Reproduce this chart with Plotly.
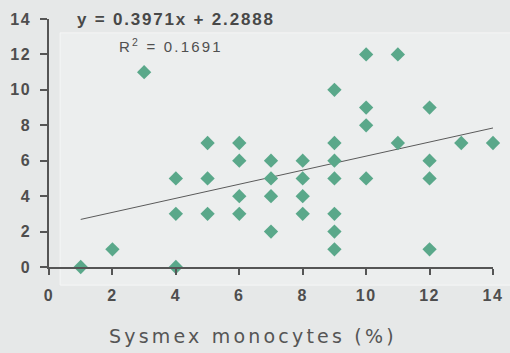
import plotly.graph_objects as go

# Sysmex monocyte % vs. comparison count
monocytes = [1, 2, 3,
             4, 4, 4,
             5, 5, 5,
             6, 6, 6, 6,
             7, 7, 7, 7,
             8, 8, 8, 8,
             9, 9, 9, 9, 9, 9, 9,
             10, 10, 10, 10,
             11, 11,
             12, 12, 12, 12,
             13, 14]
counts = [0, 1, 11,
          5, 3, 0,
          7, 5, 3,
          7, 6, 4, 3,
          6, 5, 4, 2,
          6, 5, 4, 3,
          10, 7, 6, 5, 3, 2, 1,
          12, 9, 8, 5,
          12, 7,
          9, 6, 5, 1,
          7, 7]

slope = 0.3971
intercept = 2.2888
r_squared = 0.1691
trend_x = [min(monocytes), max(monocytes)]
trend_y = [slope * v + intercept for v in trend_x]

tick_vals = [0, 2, 4, 6, 8, 10, 12, 14]
tick_labels = [str(v) for v in tick_vals]
x_title = "Sysmex monocytes (%)"


def spaced(text, px, bold=False):
    inner = f"<b>{text}</b>" if bold else text
    return f'<span style="letter-spacing:{px}px">{inner}</span>'


axis_color = "#555555"
label_font = dict(family="Liberation Sans, Arial, sans-serif", size=16, color="#4e4e4e")
tick_text = [spaced(t, 1.5, bold=True) for t in tick_labels]

fig = go.Figure()
fig.add_trace(go.Scatter(
    x=trend_x, y=trend_y, mode="lines",
    line=dict(color="#5a5a5a", width=1), hoverinfo="skip",
))
fig.add_trace(go.Scatter(
    x=monocytes, y=counts, mode="markers",
    marker=dict(symbol="diamond", size=11, color="#5aa88a"),
    cliponaxis=False,
))

fig.update_layout(
    width=510, height=353,
    margin=dict(l=49, r=17, t=19, b=86),
    paper_bgcolor="#e6e8e8",
    plot_bgcolor="rgba(0,0,0,0)",
    showlegend=False,
    xaxis=dict(
        range=[0, 14], tickvals=tick_vals, ticktext=tick_text,
        showgrid=False, zeroline=False, automargin=False,
        showline=True, linecolor=axis_color, linewidth=1.5,
        ticks="outside", ticklen=6, tickcolor=axis_color, tickwidth=1.5,
        tickfont=label_font, ticklabelstandoff=7,
    ),
    yaxis=dict(
        range=[0, 14], tickvals=tick_vals, ticktext=tick_text,
        showgrid=False, zeroline=False, automargin=False,
        showline=True, linecolor=axis_color, linewidth=1.5,
        ticks="outside", ticklen=7, tickcolor=axis_color, tickwidth=1.5,
        tickfont=label_font, ticklabelstandoff=6,
    ),
    shapes=[dict(
        type="rect", xref="paper", yref="paper", layer="below",
        x0=0.025, x1=1.04, y0=-0.073, y1=0.944,
        fillcolor="#eceeee", line=dict(color="#f5f6f6", width=1),
    )],
    annotations=[
        dict(
            text=spaced(f"y = {slope}x + {intercept}", 1.8, bold=True),
            xref="paper", yref="paper", x=0.285, y=1.0,
            xanchor="center", yanchor="middle", showarrow=False,
            font=dict(family="Liberation Sans, Arial, sans-serif", size=17, color="#484848"),
        ),
        dict(
            text=spaced(f"R<sup>2</sup> = {r_squared}", 2.2),
            xref="paper", yref="paper", x=0.275, y=0.895,
            xanchor="center", yanchor="middle", showarrow=False,
            font=dict(family="Liberation Sans, Arial, sans-serif", size=15, color="#505050"),
        ),
        dict(
            text=spaced(x_title, 3.2),
            xref="paper", yref="paper", x=0.459, y=-0.278,
            xanchor="center", yanchor="middle", showarrow=False,
            font=dict(family="DejaVu Sans, Verdana, sans-serif", size=19, color="#555555"),
        ),
    ],
)

fig.write_html("out.html")
